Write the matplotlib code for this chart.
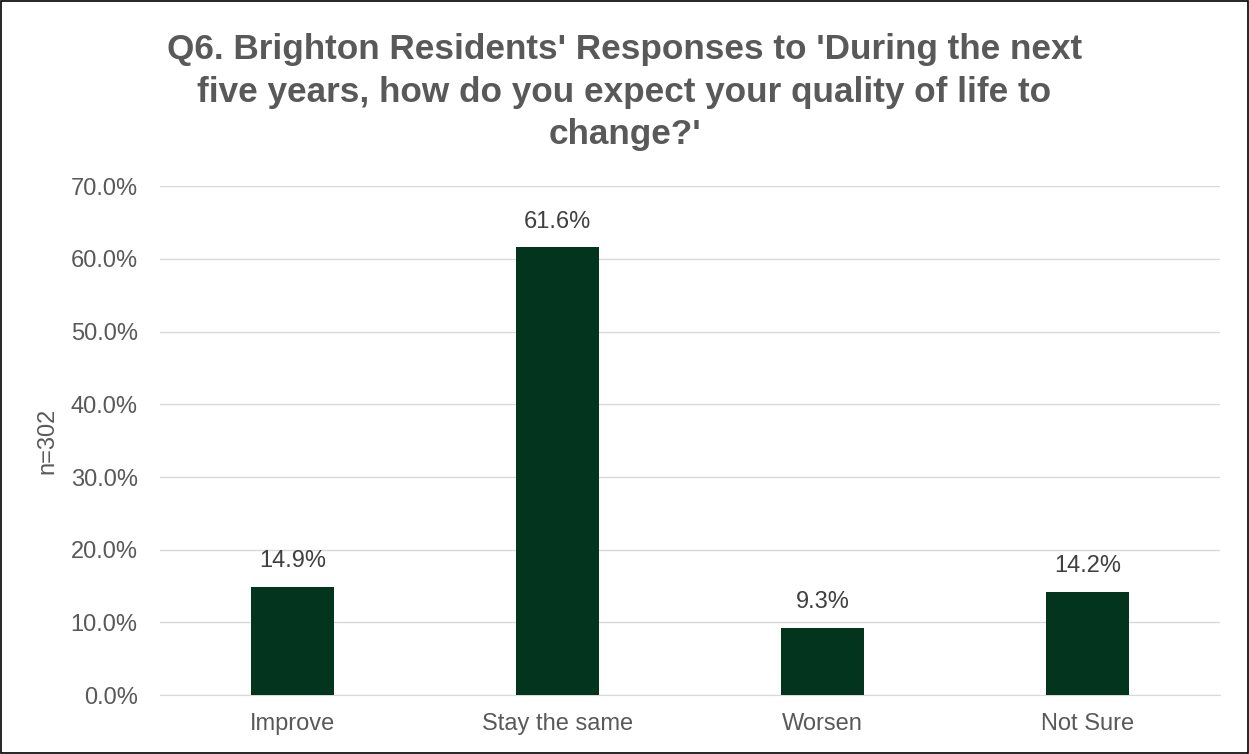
import matplotlib.pyplot as plt
from matplotlib.patches import Rectangle

categories = ['Improve', 'Stay the same', 'Worsen', 'Not Sure']
values = [14.9, 61.6, 9.3, 14.2]
y_ticks = [0, 10, 20, 30, 40, 50, 60, 70]

plt.rcParams['font.family'] = ['Liberation Sans', 'DejaVu Sans']
text_col = '#595959'
bar_col = '#03341E'

fig = plt.figure(figsize=(12.49, 7.54), dpi=100)
ax = fig.add_axes([0.128, 0.078, 0.849, 0.675])

x = range(len(categories))
bars = ax.bar(x, values, width=0.315, color=bar_col, zorder=3)
for xi, v in zip(x, values):
    ax.text(xi, v + 2.0, f'{v:.1f}%', ha='center', va='bottom',
            fontsize=17, color='#404040')

ax.set_xlim(-0.5, len(categories) - 0.5)
ax.set_ylim(0, 70)
ax.set_yticks(y_ticks)
ax.set_yticklabels([f'{t:.1f}%' for t in y_ticks])
ax.set_xticks(list(x))
ax.set_xticklabels(categories)
ax.tick_params(axis='both', length=0, labelsize=17, labelcolor=text_col)
ax.tick_params(axis='x', pad=13)
ax.tick_params(axis='y', pad=16)
ax.grid(axis='y', color='#D9D9D9', linewidth=1, zorder=0)
for s in ['top', 'right', 'left']:
    ax.spines[s].set_visible(False)
ax.spines['bottom'].set_color('#D9D9D9')
ax.set_ylabel('n=302', fontsize=17, color=text_col, labelpad=9)

fig.text(0.5, 0.956, "Q6. Brighton Residents' Responses to 'During the next\n"
         "five years, how do you expect your quality of life to\nchange?'",
         ha='center', va='top', fontsize=25.3, fontweight='bold',
         color=text_col, linespacing=1.36)

fig.patches.append(Rectangle((0.0008, 0.0013), 0.9984, 0.9974, transform=fig.transFigure,
                             fill=False, edgecolor='black', linewidth=1.2))

fig.savefig('out.png', dpi=100)
